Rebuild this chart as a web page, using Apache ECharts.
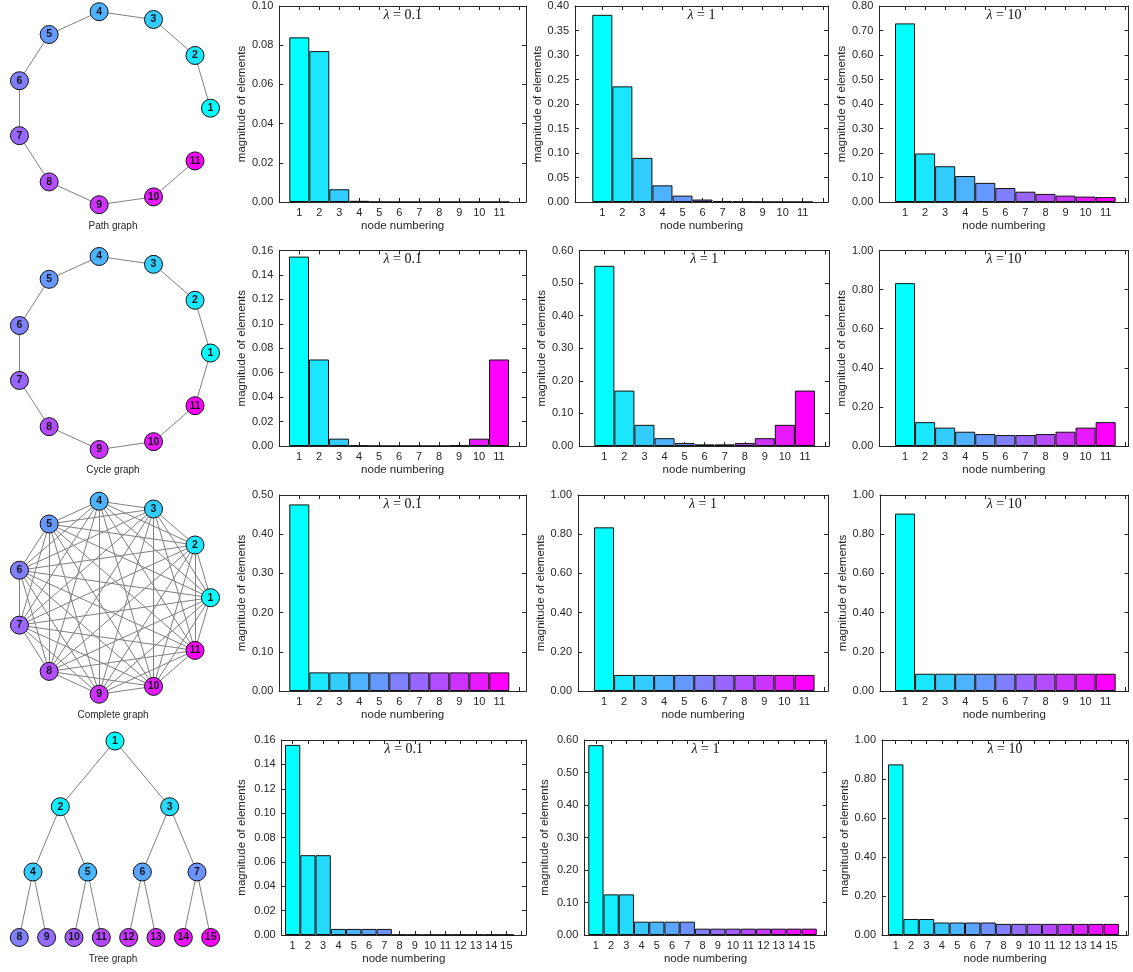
<!DOCTYPE html>
<html><head><meta charset="utf-8">
<script src="https://cdn.jsdelivr.net/npm/echarts@6/dist/echarts.min.js"></script>
<style>html,body{margin:0;padding:0;background:#fff}#c{width:1133px;height:972px}</style>
</head><body><div id="c"></div>
<script>
// ---------------- data ----------------
const graphNames = ['Path graph', 'Cycle graph', 'Complete graph', 'Tree graph'];
const lambdaValues = ['0.1', '1', '10'];
const nodes11 = ['1','2','3','4','5','6','7','8','9','10','11'];
const nodes15 = ['1','2','3','4','5','6','7','8','9','10','11','12','13','14','15'];
const xAxisName = 'node numbering';
const yAxisName = 'magnitude of elements';

const pathL01 = [0.0840, 0.0770, 0.0065, 0.0006, 0.00005, 0.000004, 0, 0, 0, 0, 0];
const pathL1  = [0.382, 0.236, 0.090, 0.034, 0.013, 0.005, 0.002, 0.0007, 0.0003, 0.0001, 0.00004];
const pathL10 = [0.729, 0.198, 0.146, 0.106, 0.078, 0.057, 0.042, 0.033, 0.026, 0.022, 0.020];

const cycleL01 = [0.155, 0.0708, 0.0060, 0.0005, 0.00004, 0.000003, 0.000003, 0.00004, 0.0005, 0.0060, 0.0708];
const cycleL1  = [0.553, 0.170, 0.065, 0.024, 0.009, 0.005, 0.005, 0.009, 0.024, 0.065, 0.170];
const cycleL10 = [0.833, 0.122, 0.094, 0.073, 0.061, 0.056, 0.056, 0.061, 0.073, 0.094, 0.122];

const completeL01 = [0.476, 0.0475, 0.0475, 0.0475, 0.0475, 0.0475, 0.0475, 0.0475, 0.0475, 0.0475, 0.0475];
const completeL1  = [0.835, 0.082, 0.082, 0.082, 0.082, 0.082, 0.082, 0.082, 0.082, 0.082, 0.082];
const completeL10 = [0.905, 0.088, 0.088, 0.088, 0.088, 0.088, 0.088, 0.088, 0.088, 0.088, 0.088];

const treeL01 = [0.156, 0.0655, 0.0655, 0.005, 0.005, 0.005, 0.005, 0.0003, 0.0003, 0.0003, 0.0003, 0.0003, 0.0003, 0.0003, 0.0003];
const treeL1  = [0.584, 0.125, 0.125, 0.041, 0.041, 0.041, 0.041, 0.0195, 0.0195, 0.0195, 0.0195, 0.0195, 0.0195, 0.0195, 0.0195];
const treeL10 = [0.875, 0.082, 0.082, 0.064, 0.064, 0.064, 0.064, 0.057, 0.057, 0.057, 0.057, 0.057, 0.057, 0.057, 0.057];

const yMaxes = [[0.10, 0.40, 0.80], [0.16, 0.60, 1.00], [0.50, 1.00, 1.00], [0.16, 0.60, 1.00]];
const ySteps = [[0.02, 0.05, 0.10], [0.02, 0.10, 0.20], [0.10, 0.20, 0.20], [0.02, 0.10, 0.20]];

// ---------------- layout (pixels) ----------------
const rowTop    = [6, 250.5, 495, 740];
const rowBottom = [202, 446, 691, 935];
const plotLeft  = [[279.3, 575, 879.3], [279.3, 579.3, 879.3], [279.3, 578, 880], [281.7, 584.3, 882]];
const plotRight = [[526, 828, 1128.5], [526, 829, 1128.5], [526, 828, 1128.5], [526, 826.7, 1128]];
const barStart  = [[289.3, 592.3, 895], [289, 594.3, 895], [289.3, 594, 895], [285, 588.3, 888]];
const barUnit   = [[20, 20.04, 20.06], [20, 20.06, 20.06], [20, 20.05, 20.06], [15.27, 15.23, 15.4]];
const yNameX    = [241.5, 545, 845];
const circleCx = 113, circleR = 97.5;
const circleCy = [108.2, 353, 597.7];
const treeLevelY = [741, 806.7, 872, 937.5];
const treeLeafX0 = 19.3, treeLeafGap = 27.34;
const graphTitleY = [227, 471.5, 716.5, 960.5];

// ---------------- helpers ----------------
const FONT = '"Liberation Sans", Arial, Helvetica, sans-serif';
const INK = '#262626';
function cool(i, n) {
  const t = n > 1 ? i / (n - 1) : 0;
  return 'rgb(' + Math.round(255 * t) + ',' + Math.round(255 * (1 - t)) + ',255)';
}

const barData = [
  [pathL01, pathL1, pathL10],
  [cycleL01, cycleL1, cycleL10],
  [completeL01, completeL1, completeL10],
  [treeL01, treeL1, treeL10]
];

const grids = [], xAxes = [], yAxes = [], series = [], titles = [];
let k = 0;
for (let r = 0; r < 4; r++) {
  for (let c = 0; c < 3; c++) {
    const vals = barData[r][c];
    const n = vals.length;
    const cats = n === 11 ? nodes11 : nodes15;
    const L = plotLeft[r][c], R = plotRight[r][c], T = rowTop[r], B = rowBottom[r];
    const unit = barUnit[r][c];
    const xmin = 0.5 - (barStart[r][c] - L) / unit;
    const xmax = xmin + (R - L) / unit;
    grids.push({ left: L, top: T, width: R - L, height: B - T, containLabel: false });
    const tickVals = [];
    for (let i = 1; i <= n + 1; i++) tickVals.push(i);
    const labelVals = cats.map(Number);
    const axisLine = { show: true, onZero: false, lineStyle: { color: INK, width: 1 } };
    xAxes.push({
      gridIndex: k, type: 'value', position: 'bottom', min: xmin, max: xmax,
      axisLine: axisLine,
      axisTick: { show: true, inside: true, length: 4, customValues: tickVals, lineStyle: { color: INK } },
      axisLabel: { show: true, customValues: labelVals, margin: 5, fontSize: 11, color: INK, fontFamily: FONT,
        formatter: function (v) { return cats[Math.round(v) - 1] || ''; } },
      splitLine: { show: false },
      name: xAxisName, nameLocation: 'middle', nameGap: 18,
      nameTextStyle: { fontSize: 11.5, color: INK, fontFamily: FONT }
    });
    xAxes.push({
      gridIndex: k, type: 'value', position: 'top', min: xmin, max: xmax,
      axisLine: axisLine,
      axisTick: { show: true, inside: true, length: 4, customValues: tickVals, lineStyle: { color: INK } },
      axisLabel: { show: false }, splitLine: { show: false }
    });
    const yMax = yMaxes[r][c], yStep = ySteps[r][c];
    yAxes.push({
      gridIndex: k, type: 'value', position: 'left', min: 0, max: yMax, interval: yStep,
      axisLine: axisLine,
      axisTick: { show: true, inside: true, length: 4, lineStyle: { color: INK } },
      axisLabel: { show: true, margin: 6, fontSize: 11, color: INK, fontFamily: FONT,
        formatter: function (v) { return v.toFixed(2); } },
      splitLine: { show: false },
      name: yAxisName, nameLocation: 'middle', nameGap: L - yNameX[c] - 6,
      nameTextStyle: { fontSize: 11.5, color: INK, fontFamily: FONT }
    });
    yAxes.push({
      gridIndex: k, type: 'value', position: 'right', min: 0, max: yMax, interval: yStep,
      axisLine: axisLine,
      axisTick: { show: true, inside: true, length: 4, lineStyle: { color: INK } },
      axisLabel: { show: false }, splitLine: { show: false }
    });
    series.push({
      type: 'bar', xAxisIndex: 2 * k, yAxisIndex: 2 * k,
      barWidth: unit, barGap: '0%',
      itemStyle: { borderColor: '#111', borderWidth: 1 },
      data: vals.map(function (v, i) { return { value: [i + 1, v], itemStyle: { color: cool(i, n) } }; })
    });
    titles.push({
      text: '{l|λ} = ' + lambdaValues[c], left: (L + R) / 2, top: T + 2, textAlign: 'center', padding: 0,
      textStyle: { fontFamily: '"Liberation Serif", "DejaVu Serif", serif', fontSize: 14, fontWeight: 'normal', color: '#111',
        rich: { l: { fontFamily: '"Liberation Serif", "DejaVu Serif", serif', fontSize: 14, fontStyle: 'italic', color: '#111' } } }
    });
    k++;
  }
}

// ---------------- graphs ----------------
function circlePositions(row, n) {
  const pts = [];
  for (let i = 0; i < n; i++) {
    const a = i * 2 * Math.PI / n;
    pts.push([circleCx + circleR * Math.cos(a), circleCy[row] - circleR * Math.sin(a)]);
  }
  return pts;
}
function treePositions(n) {
  const pts = [];
  for (let i = 1; i <= n; i++) {
    const L = Math.floor(Math.log2(i));
    const p = i - Math.pow(2, L);
    const span = Math.pow(2, 3 - L);
    pts.push([treeLeafX0 + treeLeafGap * ((p + 0.5) * span - 0.5), treeLevelY[L]]);
  }
  return pts;
}
const pathEdges = [], cycleEdges = [], completeEdges = [], treeEdges = [];
for (let i = 1; i < 11; i++) pathEdges.push([i, i + 1]);
for (let i = 1; i < 11; i++) cycleEdges.push([i, i + 1]);
cycleEdges.push([11, 1]);
for (let i = 1; i <= 11; i++) for (let j = i + 1; j <= 11; j++) completeEdges.push([i, j]);
for (let i = 1; i <= 7; i++) { treeEdges.push([i, 2 * i]); treeEdges.push([i, 2 * i + 1]); }

const graphDefs = [
  { pts: circlePositions(0, 11), edges: pathEdges, labels: nodes11 },
  { pts: circlePositions(1, 11), edges: cycleEdges, labels: nodes11 },
  { pts: circlePositions(2, 11), edges: completeEdges, labels: nodes11 },
  { pts: treePositions(15), edges: treeEdges, labels: nodes15 }
];
graphDefs.forEach(function (g, gi) {
  const n = g.labels.length;
  const xs = g.pts.map(function (p) { return p[0]; }), ys = g.pts.map(function (p) { return p[1]; });
  const minX = Math.min.apply(null, xs), maxX = Math.max.apply(null, xs);
  const minY = Math.min.apply(null, ys), maxY = Math.max.apply(null, ys);
  series.push({
    type: 'graph', layout: 'none', roam: false,
    left: minX, top: minY, width: maxX - minX, height: maxY - minY,
    symbol: 'circle', symbolSize: 18,
    itemStyle: { borderColor: '#111', borderWidth: 1 },
    label: { show: true, position: 'inside', fontSize: 10.5, fontWeight: 'bold', color: '#151515', fontFamily: FONT },
    lineStyle: { color: '#808080', width: 1, opacity: 1, curveness: 0 },
    emphasis: { disabled: true },
    data: g.labels.map(function (lab, i) {
      return { name: lab, x: g.pts[i][0], y: g.pts[i][1], itemStyle: { color: cool(i, n) } };
    }),
    links: g.edges.map(function (e) { return { source: String(e[0]), target: String(e[1]) }; })
  });
  titles.push({
    text: graphNames[gi], left: 113, top: graphTitleY[gi] - 6, textAlign: 'center', padding: 0,
    textStyle: { fontFamily: FONT, fontSize: 10, fontWeight: 'normal', color: INK }
  });
});

const chart = echarts.init(document.getElementById('c'));
chart.setOption({
  animation: false,
  backgroundColor: '#fff',
  title: titles,
  grid: grids,
  xAxis: xAxes,
  yAxis: yAxes,
  series: series
});
</script>
</body></html>
